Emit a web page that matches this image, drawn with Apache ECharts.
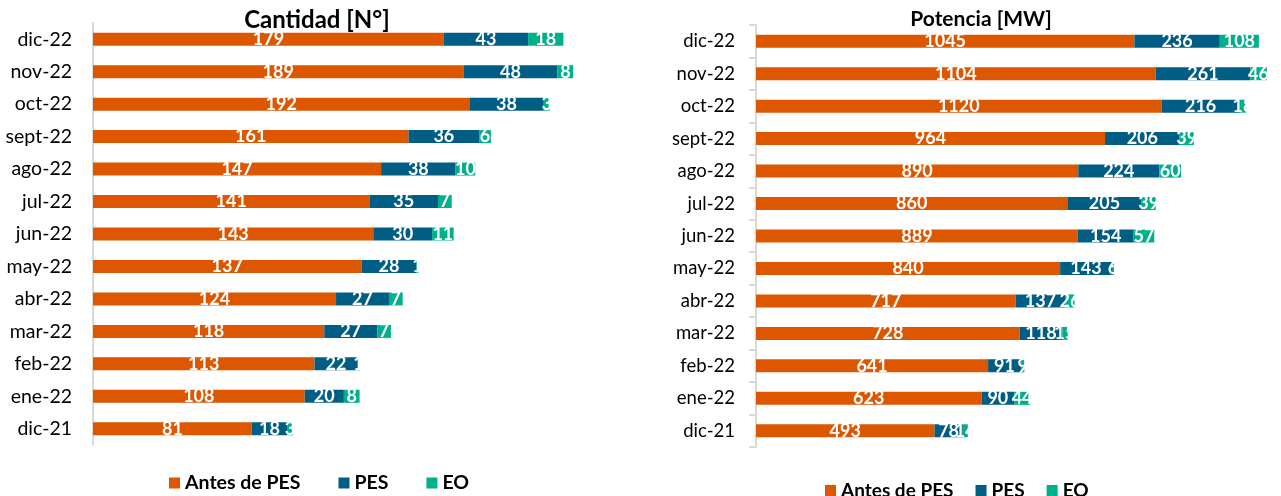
<!DOCTYPE html>
<html><head><meta charset="utf-8">
<script src="https://cdn.jsdelivr.net/npm/echarts@6/dist/echarts.min.js"></script>
<style>html,body{margin:0;padding:0;background:#fff}#c{width:1281px;height:496px}</style>
</head><body><div id="c"></div>
<script>
const categories = ['dic-22','nov-22','oct-22','sept-22','ago-22','jul-22','jun-22','may-22','abr-22','mar-22','feb-22','ene-22','dic-21'];
const seriesNames = ['Antes de PES','PES','EO'];
const cantAntes = [179,189,192,161,147,141,143,137,124,118,113,108,81];
const cantPES   = [43,48,38,36,38,35,30,28,27,27,22,20,18];
const cantEO    = [18,8,3,6,10,7,11,1,7,7,1,8,3];
const potAntes  = [1045,1104,1120,964,890,860,889,840,717,728,641,623,493];
const potPES    = [236,261,216,206,224,205,154,143,137,118,91,90,78];
const potEO     = [108,46,18,39,60,39,57,6,26,15,9,44,14];
const titles = ['Cantidad [N°]','Potencia [MW]'];

const colors = ['#DD5700','#005E85','#00B08A'];
const FONT = 'Lato';
const lbl = {show:true, position:'inside', color:'#fff', fontWeight:'bold', fontSize:18, fontFamily:FONT};

function mk(name, data, gi, ci, stack){
  return {name, type:'bar', stack, xAxisIndex:gi, yAxisIndex:gi, data,
    barWidth:13, itemStyle:{color:colors[ci]}, label:lbl, emphasis:{disabled:true}};
}

const chart = echarts.init(document.getElementById('c'));
chart.setOption({
  animation:false,
  title:[
    {text:titles[0], left:312, top:3, textAlign:'center', textStyle:{fontFamily:FONT, fontWeight:'bold', fontSize:24, color:'#000'}},
    {text:titles[1], left:976, top:4, textAlign:'center', textStyle:{fontFamily:FONT, fontWeight:'bold', fontSize:21, color:'#000'}}
  ],
  legend:[
    {data:seriesNames, left:164, top:468, itemWidth:11, itemHeight:11, itemGap:38, icon:'rect',
     textStyle:{fontFamily:FONT, fontWeight:'bold', fontSize:19.5, color:'#000'}},
    {data:seriesNames, left:820, top:476, itemWidth:11, itemHeight:11, itemGap:22, icon:'rect',
     textStyle:{fontFamily:FONT, fontWeight:'bold', fontSize:19, color:'#000'}}
  ],
  grid:[
    {left:93, top:23, width:490, height:422},
    {left:756, top:25, width:527, height:422}
  ],
  xAxis:[
    {type:'value', gridIndex:0, min:0, max:250, show:false},
    {type:'value', gridIndex:1, min:0, max:1450, show:false}
  ],
  yAxis:[
    {type:'category', gridIndex:0, data:categories, inverse:true,
     axisLine:{lineStyle:{color:'#D9D9D9', width:2}}, axisTick:{show:false},
     axisLabel:{fontFamily:FONT, fontSize:19.5, color:'#000', margin:21}},
    {type:'category', gridIndex:1, data:categories, inverse:true,
     axisLine:{lineStyle:{color:'#D9D9D9', width:2}}, axisTick:{show:true, length:7, lineStyle:{color:'#D9D9D9', width:2}},
     axisLabel:{fontFamily:FONT, fontSize:18.5, color:'#000', margin:21}}
  ],
  series:[
    mk(seriesNames[0], cantAntes, 0, 0, 'a'),
    mk(seriesNames[1], cantPES, 0, 1, 'a'),
    mk(seriesNames[2], cantEO, 0, 2, 'a'),
    mk(seriesNames[0], potAntes, 1, 0, 'b'),
    mk(seriesNames[1], potPES, 1, 1, 'b'),
    mk(seriesNames[2], potEO, 1, 2, 'b')
  ]
});
</script></body></html>
